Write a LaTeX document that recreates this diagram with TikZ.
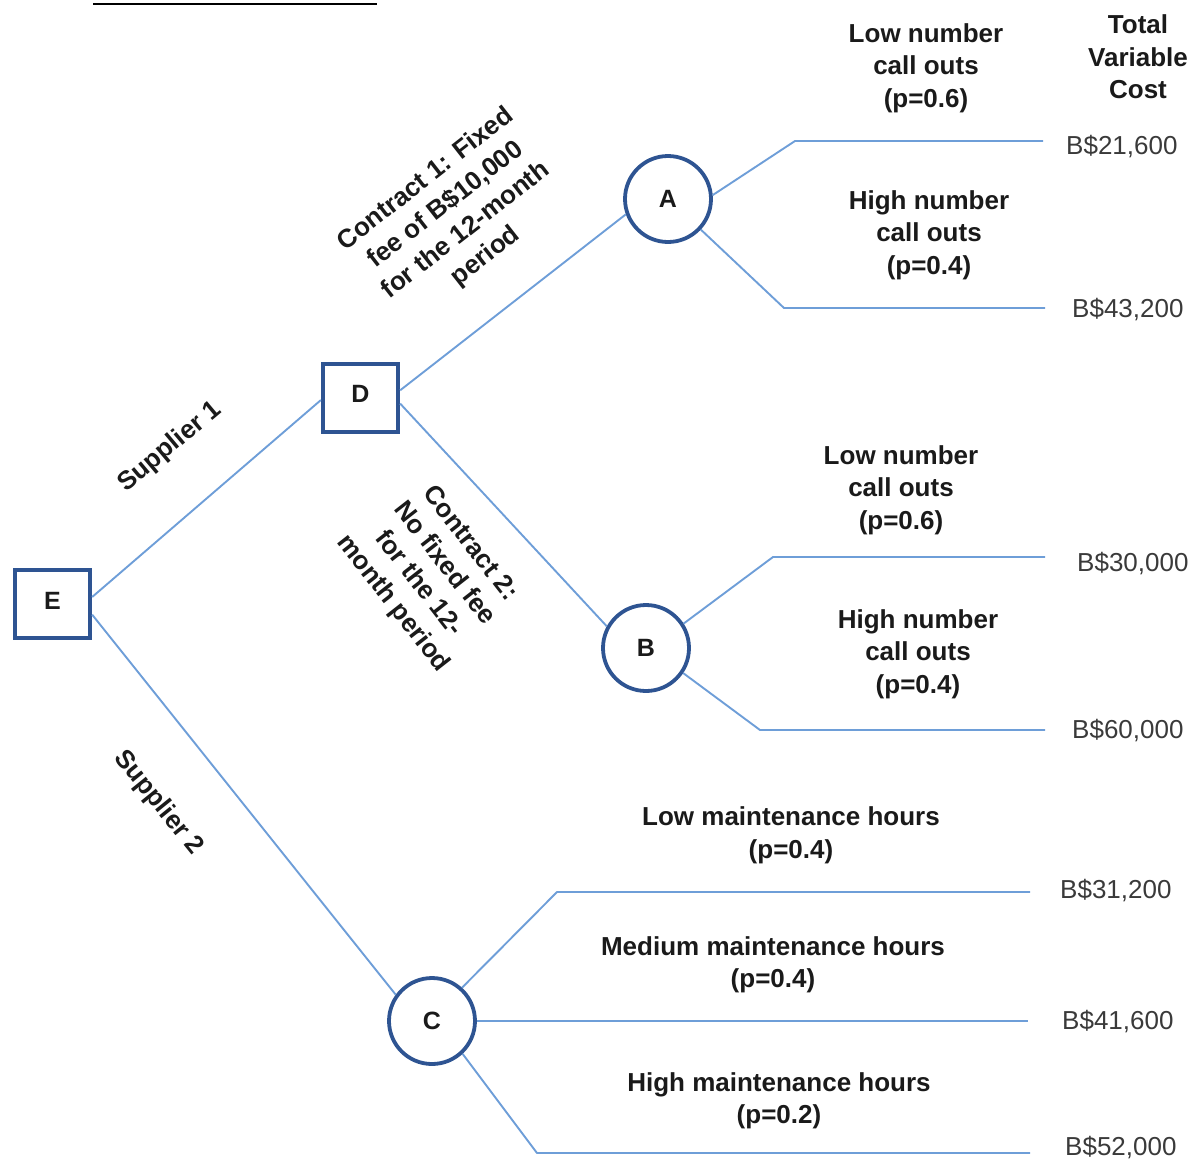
\documentclass[tikz,border=0pt]{standalone}
\usepackage{fontspec}
\setmainfont{Liberation Sans}
\definecolor{nodeblue}{RGB}{46,84,146}
\definecolor{lineblue}{RGB}{110,158,216}
\definecolor{valgray}{RGB}{58,58,58}
\definecolor{labblack}{RGB}{26,26,26}
\tikzset{
  decbox/.style={rectangle, draw=nodeblue, line width=3.8pt, fill=white,
    minimum width=75.5pt, minimum height=68.5pt, inner sep=0pt,
    font=\fontsize{25}{28}\selectfont\bfseries, text=labblack},
  chancenode/.style={circle, draw=nodeblue, line width=3.8pt, fill=white,
    minimum size=86pt, inner sep=0pt,
    font=\fontsize{25}{28}\selectfont\bfseries, text=labblack},
  conn/.style={draw=lineblue, line width=1.9pt, line join=round},
  lab/.style={align=center, inner sep=0pt, text=labblack,
    font=\fontsize{26}{32.5}\selectfont\bfseries},
  val/.style={anchor=west, inner sep=0pt, text=valgray,
    font=\fontsize{26}{32}\selectfont},
}
\begin{document}
\begin{tikzpicture}[x=1pt,y=-1pt]
\useasboundingbox (0,0) rectangle (1193,1162);
% top rule
\coordinate (r1) at (93,4);
\coordinate (r2) at (377,4);
\draw[line width=2.5pt] (r1) -- (r2);

% nodes
\node[decbox] (E) at (52.5,604) {\raisebox{6pt}{E}};
\node[decbox] (D) at (360.5,398) {\raisebox{9pt}{D}};
\node[chancenode] (A) at (668,199) {A};
\node[chancenode] (B) at (646,648) {B};
\node[chancenode] (C) at (432,1021) {C};

% knees and ends
\coordinate (a1k) at (795,141);  \coordinate (a1e) at (1043,141);
\coordinate (a2k) at (784,308);  \coordinate (a2e) at (1045,308);
\coordinate (b1k) at (773,557);  \coordinate (b1e) at (1045,557);
\coordinate (b2k) at (760,730);  \coordinate (b2e) at (1045,730);
\coordinate (c1k) at (557,892);  \coordinate (c1e) at (1030,892);
\coordinate (c2e) at (1028,1021);
\coordinate (c3k) at (537,1153); \coordinate (c3e) at (1030,1153);

% connectors
\draw[conn] (E.10) -- (D.183);
\draw[conn] (E.-15) -- (C.144);
\draw[conn] (D.11) -- (A.200);
\draw[conn] (D.-8) -- (B.151);
\draw[conn] (A.5) -- (a1k) -- (a1e);
\draw[conn] (A.-43) -- (a2k) -- (a2e);
\draw[conn] (B.33) -- (b1k) -- (b1e);
\draw[conn] (B.-34) -- (b2k) -- (b2e);
\draw[conn] (C.48) -- (c1k) -- (c1e);
\draw[conn] (C.east) -- (c2e);
\draw[conn] (C.-47) -- (c3k) -- (c3e);

% header
\node[lab] (tvc) at (1138,57) {Total\\Variable\\Cost};

% branch labels
\node[lab] (la1) at (926,68) {Low number\\call outs\\(p=0.6)};
\node[lab] (la2) at (929,235) {High number\\call outs\\(p=0.4)};
\node[lab] (lb1) at (901,490) {Low number\\call outs\\(p=0.6)};
\node[lab] (lb2) at (918,654) {High number\\call outs\\(p=0.4)};
\node[lab] (lc1) at (791,835.5) {Low maintenance hours\\(p=0.4)};
\node[lab] (lc2) at (773,965) {Medium maintenance hours\\(p=0.4)};
\node[lab] (lc3) at (779,1101) {High maintenance hours\\(p=0.2)};

% rotated labels
\node[lab, rotate=40] (s1) at (170,447) {Supplier 1};
\node[lab, rotate=-51] (s2) at (158,803) {Supplier 2};
\node[lab, rotate=38] (k1) at (456,218) {Contract 1: Fixed\\fee of B\$10,000\\for the 12-month\\period};
\node[lab, rotate=-52] (k2) at (431,574) {Contract 2:\\No fixed fee\\for the 12-\\month period};

% values
\node[val] (v1) at (1066,147) {B\$21,600};
\node[val] (v2) at (1072,310) {B\$43,200};
\node[val] (v3) at (1077,564) {B\$30,000};
\node[val] (v4) at (1072,731) {B\$60,000};
\node[val] (v5) at (1060,891) {B\$31,200};
\node[val] (v6) at (1062,1022) {B\$41,600};
\node[val] (v7) at (1065,1148) {B\$52,000};
\end{tikzpicture}
\end{document}
